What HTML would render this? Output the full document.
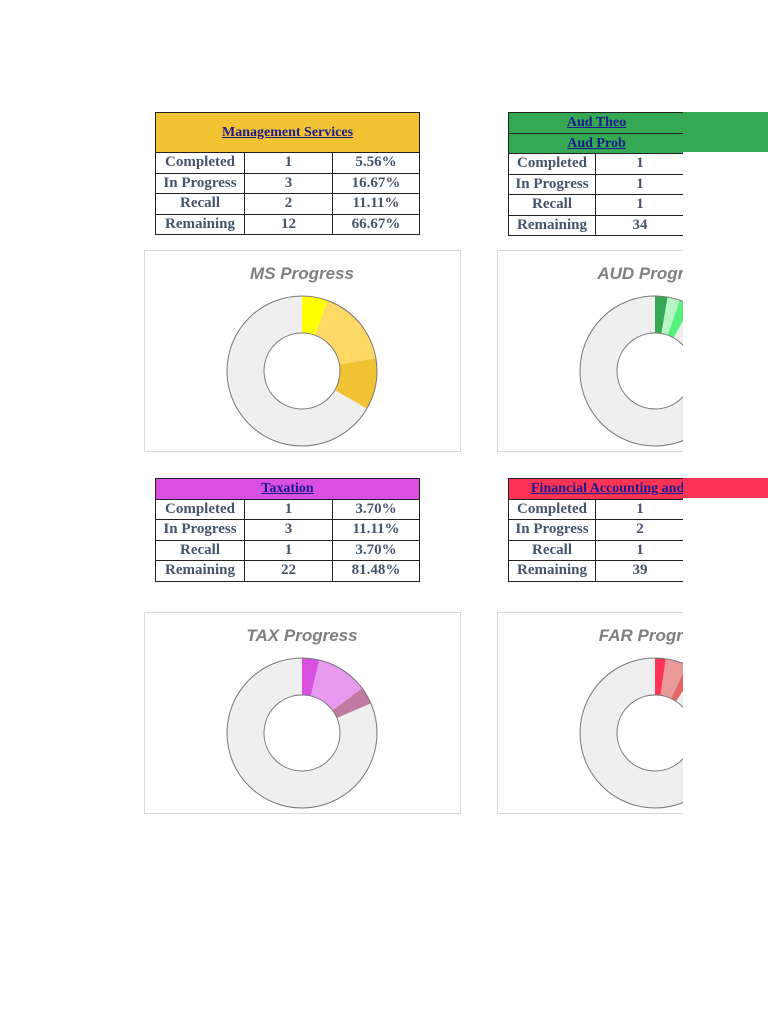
<!DOCTYPE html>
<html><head><style>
body{margin:0;width:768px;height:1024px;background:#fff;position:relative;overflow:hidden;font-family:"Liberation Serif",serif;}
.a{position:absolute;}
table{border-collapse:collapse;position:absolute;table-layout:fixed;}
td{border:1px solid #222;text-align:center;font-weight:bold;color:#44546a;font-size:15px;padding:0;height:19.5px;line-height:19px;}
.h{color:#1a1a8c;text-decoration:underline;font-size:14px;}
.box{position:absolute;border:1px solid #d9d9d9;background:#fff;}
.t{position:absolute;font-family:"Liberation Sans",sans-serif;font-weight:bold;font-style:italic;color:#7f7f7f;font-size:17px;}
.clip{position:absolute;left:0;top:0;width:683px;height:1024px;overflow:hidden;}
</style></head><body>
<div class="a" style="left:683px;top:112px;width:85px;height:40px;background:#34a853"></div>
<div class="a" style="left:683px;top:478px;width:85px;height:20px;background:#ff3355"></div>

<table style="left:155px;top:112px;width:264px">
<colgroup><col style="width:89px"><col style="width:88px"><col style="width:87px"></colgroup>
<tr><td colspan="3" class="h" style="background:#f1c232;height:39px">Management Services</td></tr>
<tr><td>Completed</td><td>1</td><td>5.56%</td></tr>
<tr><td>In Progress</td><td>3</td><td>16.67%</td></tr>
<tr><td>Recall</td><td>2</td><td>11.11%</td></tr>
<tr><td>Remaining</td><td>12</td><td>66.67%</td></tr>
</table>

<table style="left:155px;top:478px;width:264px">
<colgroup><col style="width:89px"><col style="width:88px"><col style="width:87px"></colgroup>
<tr><td colspan="3" class="h" style="background:#d94fe0">Taxation</td></tr>
<tr><td>Completed</td><td>1</td><td>3.70%</td></tr>
<tr><td>In Progress</td><td>3</td><td>11.11%</td></tr>
<tr><td>Recall</td><td>1</td><td>3.70%</td></tr>
<tr><td>Remaining</td><td>22</td><td>81.48%</td></tr>
</table>

<div class="box" style="left:144px;top:250px;width:315px;height:200px"></div>
<div class="t" style="left:144px;top:264px;width:316px;text-align:center">MS Progress</div>
<div class="box" style="left:144px;top:612px;width:315px;height:200px"></div>
<div class="t" style="left:144px;top:626px;width:316px;text-align:center">TAX Progress</div>

<svg class="a" style="left:0;top:0" width="768" height="1024">
<g transform="translate(302,371) rotate(-90)" fill="none" stroke-width="37">
<circle r="56.5" stroke="#efefef" stroke-dasharray="236.67 400" stroke-dashoffset="-118.33"/>
<circle r="56.5" stroke="#ffff00" stroke-dasharray="19.72 400" stroke-dashoffset="0"/>
<circle r="56.5" stroke="#ffd966" stroke-dasharray="59.17 400" stroke-dashoffset="-19.72"/>
<circle r="56.5" stroke="#f1c232" stroke-dasharray="39.44 400" stroke-dashoffset="-78.89"/>
<circle r="75" stroke="#777" stroke-width="1"/><circle r="38" stroke="#777" stroke-width="1"/>
</g>
<g transform="translate(302,733) rotate(-90)" fill="none" stroke-width="37">
<circle r="56.5" stroke="#efefef" stroke-dasharray="289.26 400" stroke-dashoffset="-65.74"/>
<circle r="56.5" stroke="#d94fe0" stroke-dasharray="13.15 400" stroke-dashoffset="0"/>
<circle r="56.5" stroke="#e899f0" stroke-dasharray="39.44 400" stroke-dashoffset="-13.15"/>
<circle r="56.5" stroke="#c27ba0" stroke-dasharray="13.15 400" stroke-dashoffset="-52.59"/>
<circle r="75" stroke="#777" stroke-width="1"/><circle r="38" stroke="#777" stroke-width="1"/>
</g>
</svg>

<div class="clip">
<table style="left:508px;top:112px;width:176px">
<colgroup><col style="width:87px"><col style="width:89px"></colgroup>
<tr><td colspan="2" class="h" style="background:#34a853">Aud Theo</td></tr>
<tr><td colspan="2" class="h" style="background:#34a853">Aud Prob</td></tr>
<tr><td>Completed</td><td>1</td></tr>
<tr><td>In Progress</td><td>1</td></tr>
<tr><td>Recall</td><td>1</td></tr>
<tr><td>Remaining</td><td>34</td></tr>
</table>
<table style="left:508px;top:478px;width:176px">
<colgroup><col style="width:87px"><col style="width:89px"></colgroup>
<tr><td colspan="2" class="h" style="background:#ff3355;text-align:left;padding-left:22px;white-space:nowrap;overflow:hidden">Financial Accounting and Reporting</td></tr>
<tr><td>Completed</td><td>1</td></tr>
<tr><td>In Progress</td><td>2</td></tr>
<tr><td>Recall</td><td>1</td></tr>
<tr><td>Remaining</td><td>39</td></tr>
</table>
<div class="box" style="left:497px;top:250px;width:316px;height:200px"></div>
<div class="t" style="left:497px;top:264px;width:316px;text-align:center">AUD Progress</div>
<div class="box" style="left:497px;top:612px;width:316px;height:200px"></div>
<div class="t" style="left:497px;top:626px;width:316px;text-align:center">FAR Progress</div>
<svg class="a" style="left:0;top:0" width="768" height="1024">
<g transform="translate(655,371) rotate(-90)" fill="none" stroke-width="37">
<circle r="56.5" stroke="#efefef" stroke-dasharray="326.2 400" stroke-dashoffset="-28.79"/>
<circle r="56.5" stroke="#34a853" stroke-dasharray="9.6 400" stroke-dashoffset="0"/>
<circle r="56.5" stroke="#b6f5c4" stroke-dasharray="9.6 400" stroke-dashoffset="-9.6"/>
<circle r="56.5" stroke="#57f07a" stroke-dasharray="9.6 400" stroke-dashoffset="-19.19"/>
<circle r="75" stroke="#777" stroke-width="1"/><circle r="38" stroke="#777" stroke-width="1"/>
</g>
<g transform="translate(655,733) rotate(-90)" fill="none" stroke-width="37">
<circle r="56.5" stroke="#efefef" stroke-dasharray="322 400" stroke-dashoffset="-33.02"/>
<circle r="56.5" stroke="#ff3355" stroke-dasharray="8.26 400" stroke-dashoffset="0"/>
<circle r="56.5" stroke="#ea9999" stroke-dasharray="16.51 400" stroke-dashoffset="-8.26"/>
<circle r="56.5" stroke="#e06666" stroke-dasharray="8.26 400" stroke-dashoffset="-24.77"/>
<circle r="75" stroke="#777" stroke-width="1"/><circle r="38" stroke="#777" stroke-width="1"/>
</g>
</svg>
</div>
</body></html>
